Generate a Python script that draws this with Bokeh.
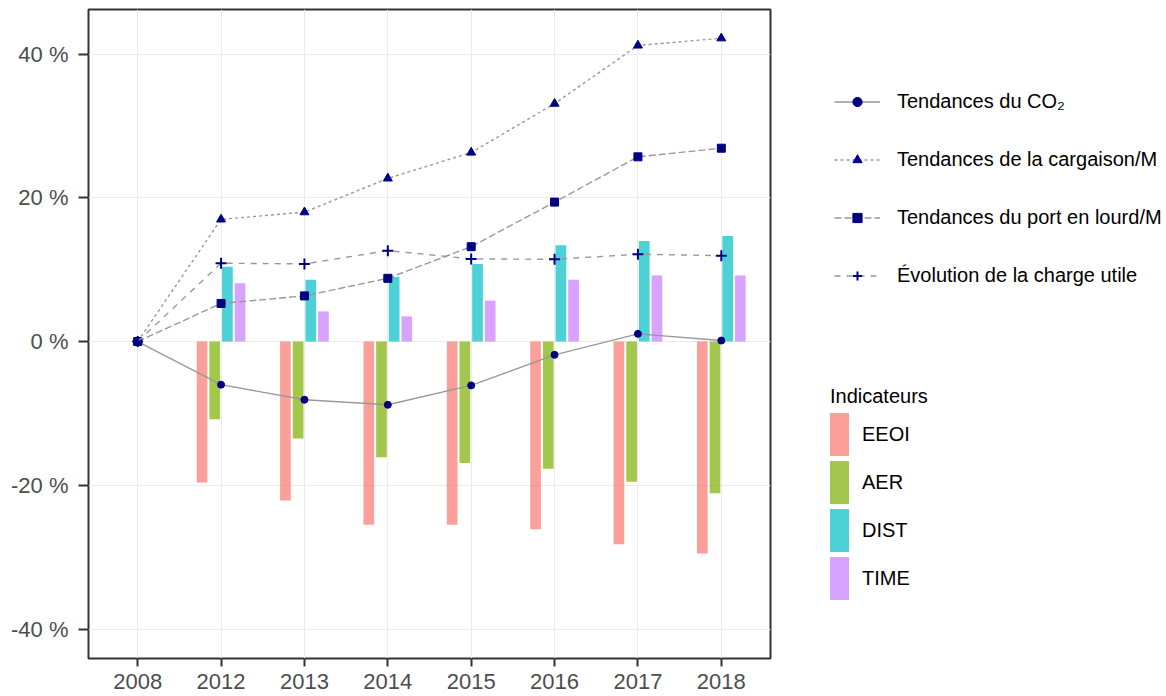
from bokeh.plotting import figure
from bokeh.layouts import row
from bokeh.models import Range1d, FixedTicker, ColumnDataSource, Legend, LegendItem
from bokeh.transform import dodge
from bokeh.embed import file_html
from bokeh.resources import INLINE

# ---- data (percent change vs 2008) ----
years = ["2008", "2012", "2013", "2014", "2015", "2016", "2017", "2018"]
eeoi = [0.0, -19.6, -22.1, -25.5, -25.5, -26.1, -28.2, -29.5]
aer = [0.0, -10.8, -13.5, -16.1, -16.9, -17.7, -19.5, -21.1]
dist = [0.0, 10.4, 8.6, 9.0, 10.8, 13.4, 14.0, 14.7]
time_ = [0.0, 8.1, 4.2, 3.5, 5.7, 8.6, 9.2, 9.2]
co2 = [0.0, -6.0, -8.1, -8.8, -6.1, -1.85, 1.07, 0.14]
cargo = [0.0, 17.0, 18.0, 22.7, 26.3, 33.1, 41.2, 42.2]
port = [0.0, 5.3, 6.35, 8.8, 13.2, 19.4, 25.7, 26.9]
charge = [0.0, 10.9, 10.8, 12.65, 11.5, 11.45, 12.15, 11.95]

indicator_names = ["EEOI", "AER", "DIST", "TIME"]
indicator_colors = ["#F8766D", "#7CAE00", "#00BFC4", "#C77CFF"]
# same hues at 70 % opacity over white (for the legend swatches)
indicator_colors_flat = ["#FA9F99", "#A3C64C", "#4CD2D6", "#D8A3FF"]
y_ticks = [-40, -20, 0, 20, 40]

line_labels = ["Tendances du CO\u2082", "Tendances de la cargaison/M",
               "Tendances du port en lourd/M", "\u00c9volution de la charge utile"]

xs = list(range(len(years)))
src = ColumnDataSource(dict(x=xs, EEOI=eeoi, AER=aer, DIST=dist, TIME=time_,
                            co2=co2, cargo=cargo, port=port, charge=charge))

FONT = "Liberation Sans"

p = figure(width=772, height=696, output_backend="svg", toolbar_location=None,
           x_range=Range1d(-0.59, len(years) - 1 + 0.59),
           y_range=Range1d(-44.1, 46.2),
           min_border_left=88, min_border_right=2,
           min_border_top=9, min_border_bottom=38)

p.background_fill_color = "white"
p.border_fill_color = "white"
p.outline_line_color = "#333333"
p.outline_line_width = 2

p.xaxis.ticker = FixedTicker(ticks=xs)
p.xaxis.major_label_overrides = {i: y for i, y in zip(xs, years)}
p.yaxis.ticker = FixedTicker(ticks=y_ticks)
p.yaxis.major_label_overrides = {t: f"{t} %" for t in y_ticks}

for ax in (p.xaxis[0], p.yaxis[0]):
    ax.axis_line_color = None
    ax.minor_tick_line_color = None
    ax.major_tick_line_color = "#333333"
    ax.major_tick_line_width = 2
    ax.major_tick_in = 0
    ax.major_label_text_font = FONT
    ax.major_label_text_font_size = "22px"
    ax.major_label_text_color = "#4D4D4D"

p.xaxis.major_tick_out = 8
p.xaxis.major_label_standoff = 7
p.yaxis.major_tick_out = 10
p.yaxis.major_label_standoff = 10

p.xgrid.ticker = FixedTicker(ticks=xs)
p.ygrid.ticker = FixedTicker(ticks=y_ticks)
p.grid.grid_line_color = "#EBEBEB"
p.grid.grid_line_width = 1

# ---- bars (dodged) ----
slot = 0.152
bar_w = 0.128
offsets = [-1.5 * slot, -0.5 * slot, 0.5 * slot, 1.5 * slot]
for name, col, off in zip(indicator_names, indicator_colors, offsets):
    p.vbar(x=dodge("x", off, range=p.x_range), top=name, bottom=0, width=bar_w,
           source=src, fill_color=col, fill_alpha=0.7, line_color=None)

# ---- lines + markers ----
LINE_COL = "#999999"
PT_COL = "#000080"
line_specs = [
    ("co2", "solid", "circle", 7, 1),
    ("cargo", "3 3", "triangle", 9, 1),
    ("port", "7 3", "square", 8, 1),
    ("charge", "6 6", "cross", 11, 2),
]
for col, dash, marker, size, lw in line_specs:
    p.line("x", col, source=src, line_color=LINE_COL, line_width=1.4, line_dash=dash)
    p.scatter("x", col, source=src, marker=marker, size=size,
              fill_color=PT_COL, line_color=PT_COL, line_width=lw)

# ---- legend panel (separate figure on the right; its frame is aligned with p's) ----
lg = figure(width=394, height=696, output_backend="svg", toolbar_location=None,
            x_range=Range1d(0, 394), y_range=Range1d(0, 696),
            x_axis_type=None, y_axis_type=None, title=None,
            min_border=0, outline_line_color=None)
lg.grid.visible = False
lg.background_fill_color = "white"
lg.border_fill_color = "white"

# invisible (NaN) stand-ins so that the legend has glyph styles to draw
NAN = [float("nan")]
line_items = []
for (col, dash, marker, size, lw), lab in zip(line_specs, line_labels):
    lr = lg.line(x=NAN, y=NAN, line_color=LINE_COL, line_width=1.4, line_dash=dash)
    sr = lg.scatter(x=NAN, y=NAN, marker=marker, fill_color=PT_COL,
                    line_color=PT_COL, line_width=lw)
    line_items.append(LegendItem(label=lab, renderers=[lr, sr]))

bar_items = []
for name, col in zip(indicator_names, indicator_colors_flat):
    br = lg.vbar(x=NAN, top=NAN, bottom=NAN, width=1, fill_color=col,
                 line_color=col, line_width=4.8, line_join="miter")
    bar_items.append(LegendItem(label=name, renderers=[br]))

leg1 = Legend(items=line_items, location=(62, 371), orientation="vertical",
              glyph_width=46, glyph_height=23, label_height=23, spacing=35,
              label_standoff=17, padding=0, margin=0,
              border_line_color=None, background_fill_alpha=0,
              label_text_font=FONT, label_text_font_size="20px",
              label_text_color="black")
lg.add_layout(leg1)

leg2 = Legend(items=bar_items, location=(58, 56), orientation="vertical",
              title="Indicateurs", title_text_font=FONT, title_text_font_size="20px",
              title_text_font_style="normal", title_text_color="black", title_standoff=2,
              glyph_width=19, glyph_height=48, label_height=48, spacing=0,
              label_standoff=13, padding=0, margin=0,
              border_line_color=None, background_fill_alpha=0,
              label_text_font=FONT, label_text_font_size="20px",
              label_text_color="black")
lg.add_layout(leg2)

layout = row(p, lg)
open("out.html", "w").write(file_html(layout, INLINE))
